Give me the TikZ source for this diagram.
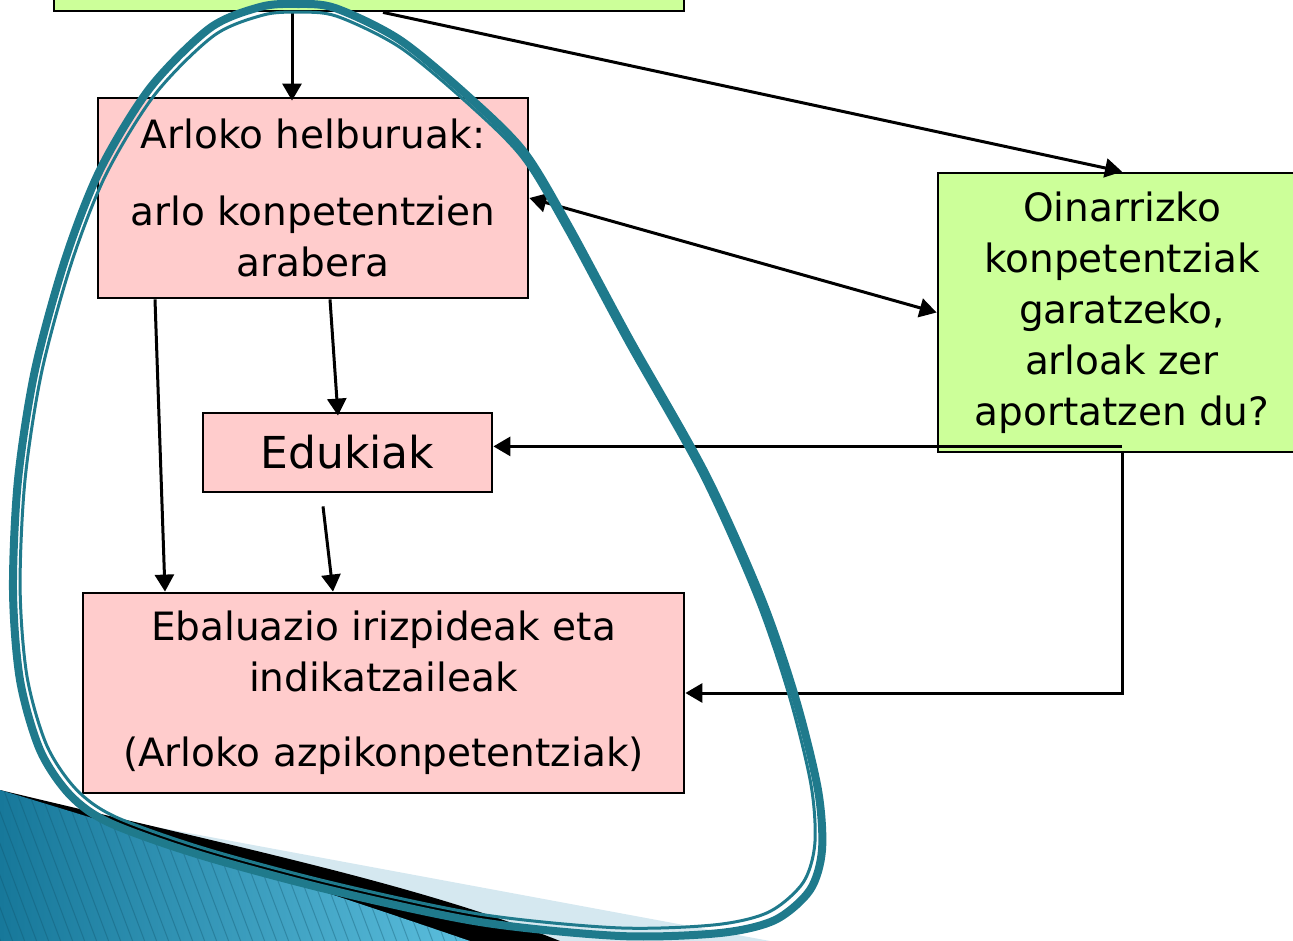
\documentclass[tikz,border=0pt]{standalone}
\usepackage{fontspec}
\setmainfont{DejaVu Sans}
\usetikzlibrary{arrows.meta}
\definecolor{pinkfill}{HTML}{FFCCCC}
\definecolor{greenfill}{HTML}{CCFF99}
\definecolor{loopteal}{HTML}{1F7A8C}
\definecolor{wedgedark}{HTML}{17789A}
\definecolor{wedgelight}{HTML}{5BBEDD}
\definecolor{wedgepale}{HTML}{D5E8F0}

\begin{document}
\begin{tikzpicture}[x=1pt,y=-1pt,
  pink_box/.style={rectangle,draw,fill=pinkfill,line width=2.8pt,align=center,inner sep=0pt,font=\fontsize{39}{51}\selectfont},
  green_box/.style={pink_box,fill=greenfill},
  arr/.style={line width=3pt,-{Triangle[length=17pt,width=19pt]}},
  loop_line/.style={draw=loopteal,line cap=round}]

  \useasboundingbox (0,0) rectangle (1293,941);
  \clip (0,0) rectangle (1293,941);

  % slide corner
  \fill[wedgepale] (0,798) -- (770,941) -- (0,941) -- cycle;
  \fill[black] (0,790) .. controls (250,850) and (420,885) .. (560,941) -- (0,941) -- cycle;
  \begin{scope}
    \clip (0,790) .. controls (200,850) and (350,900) .. (470,941) -- (0,941) -- cycle;
    \shade[left color=wedgedark,right color=wedgelight] (0,780) rectangle (470,941);
    \foreach \i in {-420,-408,...,480}
      \draw[wedgedark!70!black,line width=1pt,opacity=0.35] (\i,780) -- ++(64,170);
  \end{scope}

  % boxes
  \node[green_box,minimum width=630pt,minimum height=70pt] (top) at (369,-24) {};
  \node[pink_box,minimum width=430pt,minimum height=200pt] (arloko) at (313,198)
    {Arloko helburuak:\\[26pt] arlo konpetentzien\\ arabera};
  \node[pink_box,minimum width=289pt,minimum height=79pt,font=\fontsize{44}{52}\selectfont] (edukiak) at (347.5,452.5) {Edukiak};
  \node[pink_box,minimum width=601pt,minimum height=200pt] (ebal) at (383.5,693)
    {Ebaluazio irizpideak eta\\ indikatzaileak\\[24pt] (Arloko azpikonpetentziak)};
  \node[green_box,minimum width=368pt,minimum height=279pt] (oinarri) at (1122,312.5)
    {Oinarrizko\\ konpetentziak\\ garatzeko,\\ arloak zer\\ aportatzen du?};

  % arrows
  \draw[arr] (top.south -| 292,0) -- ([xshift=-21pt,yshift=-4pt]arloko.north);
  \draw[arr] ([xshift=14pt]top.south) -- (oinarri.north);
  \draw[arr,{Triangle[length=17pt,width=19pt]}-{Triangle[length=17pt,width=19pt]}] (arloko.east) -- (oinarri.west);
  \draw[arr] ([xshift=17pt]arloko.south) -- ([xshift=-9.5pt,yshift=-4pt]edukiak.north);
  \draw[arr] ([xshift=-158pt]arloko.south) -- ([xshift=-218.5pt]ebal.north);
  \draw[arr] ([xshift=-24.5pt,yshift=-13pt]edukiak.south) -- ([xshift=-50.5pt]ebal.north);
  \draw[arr] ([yshift=7pt]oinarri.south) -- ([yshift=7pt]oinarri.south -| edukiak.east);
  \draw[arr] (oinarri.south) |- (ebal.east);

  % the loop round the area boxes
  \draw[loop_line,line width=8pt] plot[smooth cycle] coordinates {
    (620,936) (480,922) (330,890) (200,855) (110,823) (70,795) (40,750) (20,680)
    (13,590) (18,480) (35,370) (65,260) (100,170) (150,88) (210,28) (260,7)
    (295,4) (335,8) (400,40) (470,98) (524,152) (568,225) (630,340) (706,475)
    (762,600) (796,700) (818,790) (822,850) (810,890) (775,920) (720,933)};
  \begin{scope}[scale around={0.9824:(417,470)}]
    \draw[loop_line,line width=3pt] plot[smooth cycle] coordinates {
      (620,936) (480,922) (330,890) (200,855) (110,823) (70,795) (40,750) (20,680)
      (13,590) (18,480) (35,370) (65,260) (100,170) (150,88) (210,28) (260,7)
      (295,4) (335,8) (400,40) (470,98) (524,152) (568,225) (630,340) (706,475)
      (762,600) (796,700) (818,790) (822,850) (810,890) (775,920) (720,933)};
  \end{scope}
\end{tikzpicture}
\end{document}
